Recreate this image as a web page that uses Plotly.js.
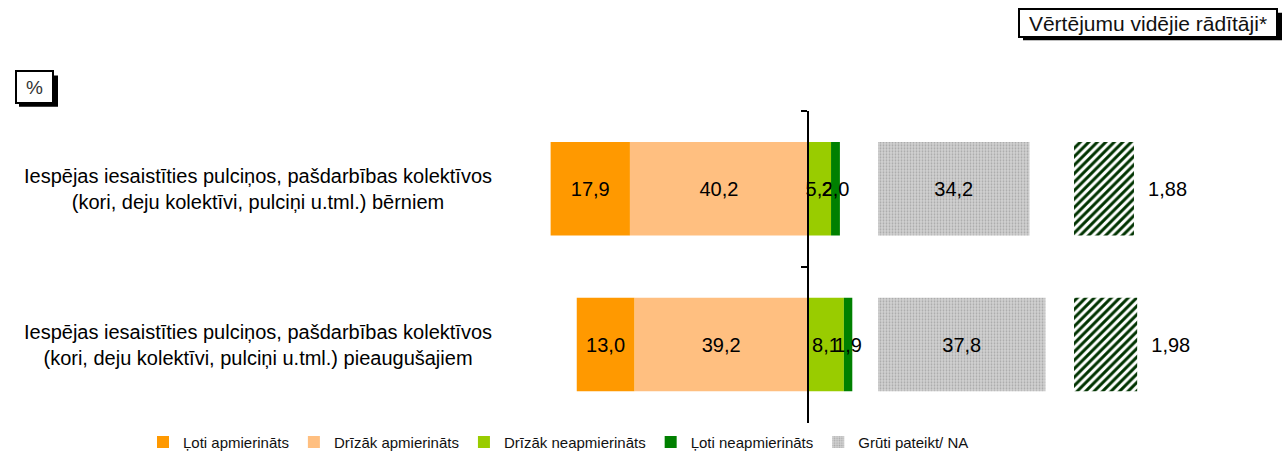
<!DOCTYPE html>
<html><head><meta charset="utf-8">
<script src="https://cdn.plot.ly/plotly-3.0.1.min.js"></script>
<style>html,body{margin:0;padding:0;background:#fff}#chart{width:1286px;height:459px}</style>
</head><body><div id="chart"></div>
<script>
// ---- data ----
const categories = [
  "Iespējas iesaistīties pulciņos, pašdarbības kolektīvos<br>(kori, deju kolektīvi, pulciņi u.tml.) bērniem",
  "Iespējas iesaistīties pulciņos, pašdarbības kolektīvos<br>(kori, deju kolektīvi, pulciņi u.tml.) pieaugušajiem"
];
const catIndex = [0, 1];
const verySatisfied = [17.9, 13.0];
const ratherSatisfied = [40.2, 39.2];
const ratherDissatisfied = [5.2, 8.1];
const veryDissatisfied = [2.0, 1.9];
const hardToSay = [34.2, 37.8];
const averages = [1.88, 1.98];
const seriesNames = ["Ļoti apmierināts", "Drīzāk apmierināts", "Drīzāk neapmierināts", "Ļoti neapmierināts", "Grūti pateikt/ NA"];
const avgTitle = "Vērtējumu vidējie rādītāji*";
const unitLabel = "%";

// ---- layout constants ----
const W = 1286, H = 459;
const PX = 4.43;          // px per percent
const ZERO = 808;         // px of zero line
const GRAY0 = 878;        // px where "hard to say" bars start
const AVG0 = 1074;        // px where average bars start
const AVGPX = 31.9;       // px per average unit
const FONT = "Liberation Sans, Arial, sans-serif";
const neg = a => a.map(v => -v);
const bw = 0.6;
const txtFont = {family: FONT, size: 20, color: "#000"};

function stackBar(name, xs, custom, color, rank) {
  return {
    type: "bar", orientation: "h", name: name, y: catIndex, x: xs, customdata: custom,
    width: bw, marker: {color: color, line: {width: 0}},
    texttemplate: "%{customdata:.1f}", textposition: "inside", insidetextanchor: "middle",
    constraintext: "none", insidetextfont: txtFont, textangle: 0,
    legendrank: rank, hoverinfo: "skip", xaxis: "x", yaxis: "y"
  };
}

const traces = [
  stackBar(seriesNames[1], neg(ratherSatisfied), ratherSatisfied, "#FFBF80", 2),
  stackBar(seriesNames[0], neg(verySatisfied), verySatisfied, "#FF9900", 1),
  stackBar(seriesNames[2], ratherDissatisfied, ratherDissatisfied, "#99CC00", 3),
  stackBar(seriesNames[3], veryDissatisfied, veryDissatisfied, "#008000", 4),
  {
    type: "bar", orientation: "h", name: seriesNames[4], y: catIndex, x: hardToSay, customdata: hardToSay,
    width: bw, xaxis: "x3", yaxis: "y",
    marker: {color: "#c4c4c4", line: {width: 0},
      pattern: {shape: ".", bgcolor: "#d2d2d2", fgcolor: "#a8a8a8", size: 3, solidity: 0.3}},
    texttemplate: "%{customdata:.1f}", textposition: "inside", insidetextanchor: "middle",
    constraintext: "none", insidetextfont: txtFont, textangle: 0,
    legendrank: 5, hoverinfo: "skip"
  },
  {
    type: "bar", orientation: "h", name: "avg", y: catIndex, x: averages,
    width: bw, xaxis: "x2", yaxis: "y", showlegend: false,
    marker: {color: "#ffffff", line: {width: 0},
      pattern: {shape: "/", bgcolor: "#ffffff", fgcolor: "#003300", size: 6, solidity: 0.5}},
    texttemplate: "\u00a0\u00a0%{x:.2f}", textposition: "outside", cliponaxis: false,
    constraintext: "none", outsidetextfont: txtFont, textangle: 0, hoverinfo: "skip"
  }
];

const px2x = p => p / W;
const px2y = p => 1 - p / H;

const annotations = catIndex.map(i => ({
  xref: "paper", yref: "y", x: px2x(258), y: i, text: categories[i], showarrow: false,
  xanchor: "center", yanchor: "middle", align: "center",
  font: {family: FONT, size: 20, color: "#000"}
}));
annotations.push({
  xref: "paper", yref: "paper", x: px2x(1148), y: px2y(23), xanchor: "center", yanchor: "middle",
  text: avgTitle, showarrow: false, width: 256, height: 26, borderpad: 0,
  bgcolor: "#fff", bordercolor: "#000", borderwidth: 2,
  font: {family: FONT, size: 21, color: "#111"}
});
annotations.push({
  xref: "paper", yref: "paper", x: px2x(34), y: px2y(88.5), xanchor: "center", yanchor: "middle",
  text: unitLabel, showarrow: false, width: 35, height: 30, borderpad: 0,
  bgcolor: "#fff", bordercolor: "#000", borderwidth: 2,
  font: {family: FONT, size: 19, color: "#333"}
});

const shapes = [
  {type: "rect", xref: "paper", yref: "paper", x0: px2x(1023), x1: px2x(1282), y0: px2y(13), y1: px2y(41),
   fillcolor: "#000", line: {width: 0}},
  {type: "rect", xref: "paper", yref: "paper", x0: px2x(19), x1: px2x(58), y0: px2y(77), y1: px2y(109),
   fillcolor: "#000", line: {width: 0}}
];

const layout = {
  width: W, height: H, autosize: false,
  margin: {l: 0, r: 0, t: 0, b: 0, pad: 0},
  paper_bgcolor: "#fff", plot_bgcolor: "rgba(0,0,0,0)",
  barmode: "relative", separators: ",.",
  font: {family: FONT, color: "#000"},
  xaxis: {range: [-ZERO / PX, (W - ZERO) / PX], showgrid: false, zeroline: false, showticklabels: false,
          ticks: "", showline: false, fixedrange: true},
  xaxis2: {overlaying: "x", anchor: "y", range: [-AVG0 / AVGPX, (W - AVG0) / AVGPX], visible: false},
  xaxis3: {overlaying: "x", anchor: "y", range: [-GRAY0 / PX, (W - GRAY0) / PX], visible: false},
  yaxis: {domain: [1 - 431 / H, 1 - 113 / H], range: [1.5, -0.5], anchor: "free", position: ZERO / W,
          showline: true, linecolor: "#000", linewidth: 2, ticks: "outside", tickvals: [-0.5, 0.5],
          ticklen: 6, tickwidth: 2, tickcolor: "#000", showticklabels: false, showgrid: false, zeroline: false},
  showlegend: true,
  legend: {orientation: "h", x: px2x(143), xanchor: "left", y: px2y(451), yanchor: "middle",
           font: {family: FONT, size: 15, color: "#111"}, bgcolor: "rgba(0,0,0,0)", traceorder: "normal"},
  annotations: annotations, shapes: shapes
};

Plotly.newPlot("chart", traces, layout, {displayModeBar: false, staticPlot: true});
</script></body></html>
